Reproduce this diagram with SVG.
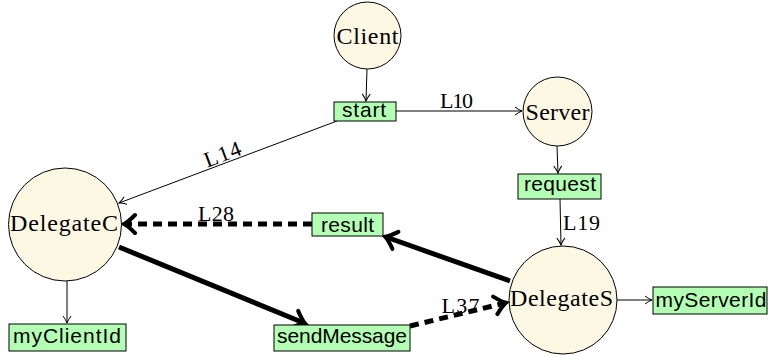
<svg xmlns="http://www.w3.org/2000/svg" width="768" height="356" viewBox="0 0 768 356">
<style>
.node circle{fill:#fdf8e4;stroke:#000;stroke-width:1}
.node text{font-family:"Liberation Serif","DejaVu Serif",serif;font-size:24px;text-anchor:middle;fill:#000}
.box rect{fill:#b3ffb3;stroke:#000;stroke-width:1}
.box text{font-family:"Liberation Sans","DejaVu Sans",sans-serif;font-size:21px;text-anchor:middle;fill:#000}
.thin{stroke:#000;stroke-width:1;fill:none;marker-end:url(#ah)}
.thick{stroke:#000;stroke-width:5;fill:none;marker-end:url(#ahb)}
.dash{stroke-dasharray:9 6}
.lbl{font-family:"Liberation Serif","DejaVu Serif",serif;font-size:22px;fill:#000}
</style>
<defs>
<marker id="ah" markerUnits="userSpaceOnUse" viewBox="-10 -6 12 12" refX="0" refY="0" markerWidth="12" markerHeight="12" orient="auto">
<path d="M-7,-4 Q-3,-1 0,0 Q-3,1 -7,4" fill="none" stroke="#000" stroke-width="1"/>
</marker>
<marker id="ahb" markerUnits="userSpaceOnUse" viewBox="-16 -12 20 24" refX="-1" refY="0" markerWidth="20" markerHeight="24" orient="auto">
<path d="M-11,-9 Q-4,-2 0,0 Q-4,2 -11,9" fill="none" stroke="#000" stroke-width="4" stroke-linecap="round" stroke-dasharray="none"/>
</marker>
</defs>
<g id="connectors">
<path class="thin" d="M367,69 L366,101"/>
<path class="thin" d="M396,111 L522,111"/>
<path class="thin" d="M557,146 L558,173"/>
<path class="thin" d="M560,199 L561,245"/>
<path class="thin" d="M337,121 L119,203"/>
<path class="thin" d="M617,300 L652,300"/>
<path class="thin" d="M67,281 L67,323"/>
<path class="thick" d="M510,281 L386,237"/>
<path class="thick dash" d="M312,224 L125,224"/>
<path class="thick" d="M119,247 L304,323"/>
<path class="thick dash" d="M410,326 L505,303"/>
<text class="lbl" x="456.5" y="108" text-anchor="middle" textLength="33">L10</text>
<text class="lbl" x="225" y="161" text-anchor="middle" textLength="38" transform="rotate(-20.5 225 161)">L14</text>
<text class="lbl" x="563" y="230" textLength="37">L19</text>
<text class="lbl" x="216" y="221" text-anchor="middle" textLength="36">L28</text>
<text class="lbl" x="460.5" y="313" text-anchor="middle" textLength="38">L37</text>
</g>
<g id="Client" class="node"><circle cx="367.5" cy="35.5" r="33.5"/><text x="367.5" y="44" textLength="62">Client</text></g>
<g id="Server" class="node"><circle cx="557.5" cy="111.5" r="34.5"/><text x="557.5" y="120" textLength="64">Server</text></g>
<g id="DelegateC" class="node"><circle cx="65" cy="224.5" r="56.5"/><text x="64" y="231" textLength="108">DelegateC</text></g>
<g id="DelegateS" class="node"><circle cx="563" cy="300" r="54"/><text x="561.5" y="306" textLength="103">DelegateS</text></g>
<g id="start" class="box"><rect x="334" y="102" width="62" height="19"/><text x="364" y="117" textLength="44">start</text></g>
<g id="request" class="box"><rect x="518" y="174" width="83" height="25"/><text x="560" y="191" textLength="72">request</text></g>
<g id="result" class="box"><rect x="312" y="213" width="71" height="23"/><text x="347.5" y="232" textLength="53">result</text></g>
<g id="myClientId" class="box"><rect x="9" y="324" width="117" height="27"/><text x="67" y="343" textLength="108">myClientId</text></g>
<g id="sendMessage" class="box"><rect x="274" y="325" width="136" height="26"/><text x="342" y="343" textLength="130">sendMessage</text></g>
<g id="myServerId" class="box"><rect x="653" y="287" width="114" height="27"/><text x="711" y="307" textLength="111">myServerId</text></g>
</svg>
